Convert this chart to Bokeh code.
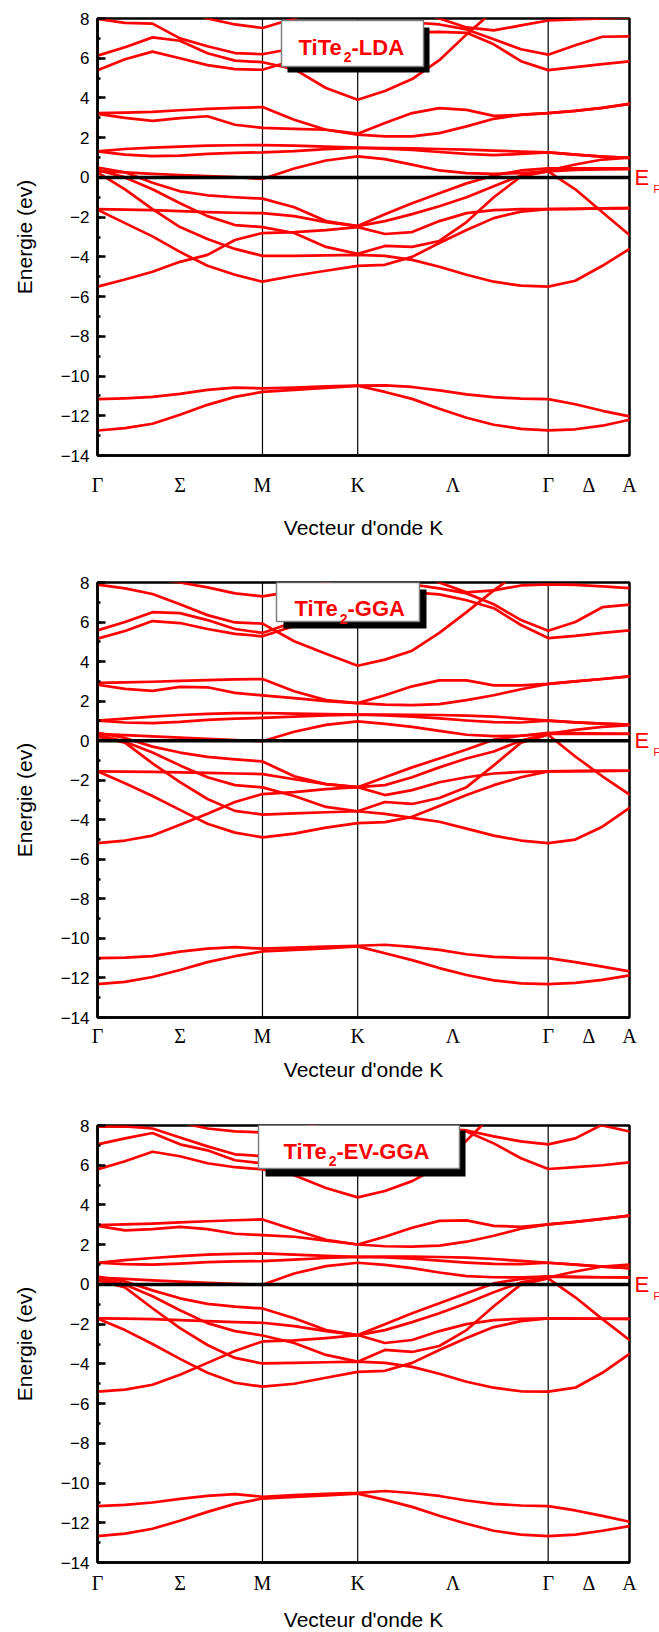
from bokeh.plotting import figure
from bokeh.layouts import column
from bokeh.models import (Range1d, FixedTicker, SingleIntervalTicker, Span, BoxAnnotation,
                          Label, LinearAxis)
from bokeh.embed import file_html
from bokeh.resources import INLINE

# ---------------------------------------------------------------------------
# k-path (units of 1e-4 * 2pi/a) and labels
# ---------------------------------------------------------------------------
HSP_K = [0, 5774, 9107, 15774, 18620]          # Gamma, M, K, Gamma, A
SEG_STEPS = [6, 3, 7, 3]                        # sampled k-points per segment
TICK_K = [0, 2887, 5774, 9107, 12440, 15774, 17197, 18620]
TICK_LABELS = ["Γ", "Σ", "M", "K", "Λ", "Γ", "Δ", "A"]
E_MIN, E_MAX = -14, 8

# ---------------------------------------------------------------------------
# Band energies (eV) on the k-path grid: Γ ... M .. K ...... Γ .. A
# ---------------------------------------------------------------------------
# TiTe2 - LDA
lda_s1 = [-11.16, -11.12, -11.05, -10.90, -10.70, -10.58, -10.62, -10.58, -10.52, -10.48, -10.47, -10.55, -10.72, -10.92, -11.06, -11.14, -11.16, -11.42, -11.75, -12.03]
lda_s2 = [-12.74, -12.62, -12.40, -11.95, -11.45, -11.05, -10.80, -10.70, -10.60, -10.49, -10.80, -11.15, -11.65, -12.10, -12.45, -12.66, -12.74, -12.68, -12.50, -12.20]
lda_v1 = [0.50, 0.26, -0.27, -0.70, -0.90, -1.00, -1.07, -1.50, -2.20, -2.45, -1.85, -1.30, -0.80, -0.30, 0.10, 0.35, 0.45, 0.45, 0.45, 0.45]
lda_v2 = [0.38, 0.00, -0.60, -1.30, -1.95, -2.40, -2.50, -2.80, -3.50, -3.85, -3.45, -3.50, -3.20, -2.25, -1.00, 0.05, 0.30, -0.60, -1.75, -2.90]
lda_v3 = [0.25, -0.60, -1.60, -2.50, -3.10, -3.60, -3.95, -3.95, -3.93, -3.90, -3.95, -4.15, -4.50, -4.90, -5.25, -5.45, -5.50, -5.20, -4.45, -3.60]
lda_v4 = [-1.60, -1.62, -1.65, -1.70, -1.75, -1.78, -1.80, -1.95, -2.25, -2.45, -2.20, -1.85, -1.45, -1.00, -0.45, 0.10, 0.35, 0.65, 0.90, 1.00]
lda_v5 = [-1.63, -2.30, -2.97, -3.75, -4.45, -4.90, -5.25, -4.95, -4.70, -4.45, -4.40, -4.00, -3.30, -2.65, -2.05, -1.72, -1.60, -1.58, -1.56, -1.55]
lda_v6 = [-5.50, -5.14, -4.75, -4.25, -3.90, -3.15, -2.80, -2.75, -2.65, -2.50, -2.85, -2.75, -2.20, -1.80, -1.65, -1.60, -1.60, -1.58, -1.56, -1.55]
lda_c1 = [0.32, 0.25, 0.18, 0.12, 0.07, 0.02, -0.08, 0.45, 0.85, 1.06, 0.92, 0.64, 0.35, 0.22, 0.18, 0.22, 0.30, 0.38, 0.40, 0.42]
lda_c2 = [1.31, 1.43, 1.50, 1.55, 1.60, 1.62, 1.63, 1.60, 1.55, 1.50, 1.48, 1.46, 1.43, 1.40, 1.35, 1.30, 1.26, 1.15, 1.05, 0.98]
lda_c3 = [1.31, 1.15, 1.07, 1.10, 1.18, 1.24, 1.26, 1.32, 1.42, 1.48, 1.45, 1.38, 1.28, 1.18, 1.12, 1.18, 1.26, 1.15, 1.05, 0.98]
lda_c4 = [3.24, 3.26, 3.30, 3.38, 3.45, 3.50, 3.54, 2.90, 2.40, 2.20, 2.74, 3.24, 3.49, 3.40, 3.10, 3.15, 3.24, 3.35, 3.50, 3.70]
lda_c5 = [3.20, 3.00, 2.85, 2.98, 3.08, 2.65, 2.49, 2.44, 2.40, 2.15, 2.07, 2.07, 2.23, 2.57, 2.95, 3.16, 3.24, 3.35, 3.50, 3.70]
lda_c6 = [6.13, 6.55, 7.05, 6.88, 6.25, 5.88, 5.80, 5.45, 4.50, 3.91, 4.35, 4.95, 5.90, 7.20, 8.40, 9.20, 9.50, 9.50, 9.50, 9.50]
lda_c7 = [7.98, 7.78, 7.74, 7.00, 6.60, 6.26, 6.20, 6.50, 6.90, 7.20, 7.50, 7.80, 7.70, 7.45, 6.95, 6.45, 6.18, 6.65, 7.08, 7.10]
lda_c8 = [5.39, 5.95, 6.33, 6.00, 5.65, 5.45, 5.42, 5.90, 6.60, 7.00, 7.15, 7.30, 7.33, 7.28, 6.70, 5.85, 5.40, 5.55, 5.70, 5.84]
lda_c9 = [9.00, 8.90, 8.70, 8.40, 8.00, 7.70, 7.52, 8.00, 8.50, 9.00, 9.00, 9.00, 9.00, 9.00, 9.00, 9.00, 9.00, 9.00, 9.00, 9.00]
lda_c10 = [9.00, 9.00, 9.00, 9.00, 9.00, 9.00, 9.00, 9.00, 9.00, 9.00, 8.60, 8.40, 8.00, 7.55, 7.40, 7.65, 7.90, 7.95, 8.00, 8.05]

# TiTe2 - GGA
gga_s1 = [-11.00, -10.97, -10.90, -10.67, -10.52, -10.44, -10.52, -10.47, -10.42, -10.37, -10.32, -10.43, -10.58, -10.80, -10.93, -10.98, -11.00, -11.20, -11.43, -11.67]
gga_s2 = [-12.31, -12.20, -11.95, -11.60, -11.20, -10.90, -10.66, -10.58, -10.50, -10.40, -10.75, -11.10, -11.50, -11.85, -12.12, -12.27, -12.31, -12.25, -12.10, -11.87]
gga_v1 = [0.40, 0.14, -0.30, -0.60, -0.82, -0.95, -1.05, -1.80, -2.20, -2.35, -1.85, -1.35, -0.90, -0.45, 0.05, 0.25, 0.40, 0.38, 0.36, 0.35]
gga_v2 = [0.30, -0.05, -0.60, -1.25, -1.85, -2.25, -2.36, -2.80, -3.35, -3.57, -3.10, -3.20, -2.90, -2.35, -1.25, -0.10, 0.30, -0.80, -1.80, -2.73]
gga_v3 = [0.20, -0.10, -1.15, -2.10, -2.95, -3.55, -3.74, -3.68, -3.62, -3.57, -3.70, -3.90, -4.10, -4.45, -4.80, -5.05, -5.18, -5.00, -4.35, -3.40]
gga_v4 = [-1.55, -1.56, -1.58, -1.60, -1.63, -1.66, -1.69, -1.95, -2.20, -2.35, -2.25, -1.85, -1.35, -0.90, -0.55, 0.00, 0.35, 0.55, 0.70, 0.78]
gga_v5 = [-1.55, -2.15, -2.80, -3.50, -4.20, -4.65, -4.89, -4.70, -4.40, -4.17, -4.12, -3.85, -3.30, -2.75, -2.25, -1.85, -1.55, -1.54, -1.53, -1.52]
gga_v6 = [-5.18, -5.05, -4.80, -4.25, -3.70, -3.10, -2.70, -2.60, -2.45, -2.35, -2.75, -2.50, -2.10, -1.85, -1.66, -1.58, -1.55, -1.54, -1.53, -1.52]
gga_c1 = [0.34, 0.28, 0.22, 0.15, 0.09, 0.03, -0.03, 0.45, 0.80, 0.98, 0.85, 0.70, 0.50, 0.30, 0.23, 0.25, 0.34, 0.34, 0.34, 0.34]
gga_c2 = [1.01, 1.12, 1.22, 1.30, 1.36, 1.39, 1.40, 1.37, 1.34, 1.32, 1.32, 1.31, 1.30, 1.27, 1.22, 1.12, 1.01, 0.93, 0.86, 0.81]
gga_c3 = [1.01, 0.92, 0.89, 0.95, 1.05, 1.12, 1.15, 1.22, 1.28, 1.32, 1.28, 1.22, 1.13, 1.02, 0.94, 0.92, 1.01, 0.93, 0.86, 0.81]
gga_c4 = [2.92, 2.95, 2.98, 3.02, 3.06, 3.10, 3.12, 2.50, 2.05, 1.90, 2.30, 2.75, 3.05, 3.05, 2.80, 2.80, 2.87, 3.00, 3.12, 3.25]
gga_c5 = [2.83, 2.62, 2.52, 2.72, 2.70, 2.42, 2.29, 2.15, 2.00, 1.90, 1.82, 1.80, 1.85, 2.05, 2.30, 2.60, 2.87, 3.00, 3.12, 3.25]
gga_c6 = [7.89, 7.70, 7.42, 6.90, 6.35, 5.98, 5.92, 5.03, 4.40, 3.79, 4.10, 4.55, 5.45, 6.50, 7.60, 8.60, 9.00, 9.00, 9.00, 9.00]
gga_c7 = [5.58, 6.00, 6.50, 6.45, 6.10, 5.65, 5.45, 6.00, 6.50, 6.90, 7.30, 7.90, 7.70, 7.45, 6.90, 6.10, 5.56, 6.00, 6.75, 6.88]
gga_c8 = [5.16, 5.55, 6.05, 5.95, 5.65, 5.40, 5.28, 5.80, 6.40, 6.80, 7.30, 7.50, 7.40, 7.10, 6.70, 5.85, 5.19, 5.30, 5.45, 5.58]
gga_c9 = [8.60, 8.40, 8.20, 8.00, 7.75, 7.45, 7.30, 7.55, 8.00, 8.50, 9.00, 9.00, 9.00, 9.00, 9.00, 9.00, 9.00, 9.00, 9.00, 9.00]
gga_c10 = [9.00, 9.00, 9.00, 9.00, 9.00, 9.00, 9.00, 9.00, 9.00, 9.00, 9.00, 8.60, 8.00, 7.50, 7.60, 7.85, 7.90, 7.88, 7.80, 7.72]

# TiTe2 - EV-GGA
ev_s1 = [-11.16, -11.10, -10.98, -10.80, -10.65, -10.56, -10.69, -10.61, -10.55, -10.49, -10.40, -10.50, -10.65, -10.88, -11.05, -11.13, -11.16, -11.38, -11.65, -11.95]
ev_s2 = [-12.67, -12.55, -12.30, -11.90, -11.45, -11.05, -10.78, -10.70, -10.62, -10.53, -10.85, -11.20, -11.65, -12.05, -12.40, -12.60, -12.67, -12.60, -12.40, -12.17]
ev_v1 = [0.39, 0.15, -0.30, -0.70, -0.98, -1.12, -1.21, -1.70, -2.30, -2.55, -2.00, -1.45, -0.95, -0.45, 0.05, 0.28, 0.40, 0.38, 0.36, 0.35]
ev_v2 = [0.30, 0.00, -0.60, -1.30, -1.95, -2.35, -2.57, -2.95, -3.55, -3.89, -3.30, -3.40, -3.10, -2.30, -1.10, 0.00, 0.30, -0.65, -1.75, -2.80]
ev_v3 = [0.20, -0.15, -1.20, -2.20, -3.05, -3.70, -3.98, -3.95, -3.92, -3.89, -3.95, -4.15, -4.50, -4.90, -5.20, -5.38, -5.40, -5.20, -4.45, -3.50]
ev_v4 = [-1.71, -1.72, -1.75, -1.80, -1.85, -1.90, -1.93, -2.10, -2.35, -2.55, -2.30, -1.90, -1.45, -0.95, -0.40, 0.10, 0.35, 0.65, 0.90, 1.00]
ev_v5 = [-1.71, -2.30, -3.00, -3.75, -4.45, -4.95, -5.15, -5.00, -4.70, -4.40, -4.35, -3.95, -3.30, -2.70, -2.15, -1.85, -1.71, -1.72, -1.73, -1.74]
ev_v6 = [-5.40, -5.30, -5.05, -4.55, -3.95, -3.35, -2.87, -2.82, -2.70, -2.55, -2.95, -2.80, -2.35, -2.00, -1.80, -1.73, -1.71, -1.72, -1.73, -1.74]
ev_c1 = [0.34, 0.28, 0.20, 0.14, 0.08, 0.03, -0.02, 0.55, 0.92, 1.09, 0.98, 0.82, 0.60, 0.42, 0.36, 0.35, 0.39, 0.37, 0.36, 0.35]
ev_c2 = [1.09, 1.22, 1.33, 1.42, 1.50, 1.54, 1.56, 1.50, 1.44, 1.39, 1.40, 1.40, 1.38, 1.35, 1.28, 1.18, 1.09, 1.00, 0.90, 0.82]
ev_c3 = [1.09, 1.02, 1.00, 1.05, 1.12, 1.16, 1.17, 1.25, 1.33, 1.39, 1.36, 1.30, 1.20, 1.10, 1.03, 1.02, 1.09, 1.00, 0.90, 0.82]
ev_c4 = [2.99, 3.02, 3.06, 3.12, 3.18, 3.23, 3.27, 2.75, 2.25, 2.01, 2.40, 2.85, 3.20, 3.22, 2.95, 2.90, 3.02, 3.15, 3.30, 3.46]
ev_c5 = [2.95, 2.72, 2.78, 2.90, 2.78, 2.55, 2.48, 2.40, 2.20, 2.01, 1.92, 1.90, 1.95, 2.15, 2.45, 2.80, 3.02, 3.15, 3.30, 3.46]
ev_c6 = [5.79, 6.20, 6.68, 6.45, 6.10, 5.90, 5.79, 5.50, 4.85, 4.38, 4.70, 5.20, 5.95, 7.25, 8.60, 9.00, 9.00, 9.00, 9.00, 9.00]
ev_c7 = [7.05, 7.35, 7.62, 7.05, 6.75, 6.25, 6.09, 6.50, 7.00, 7.30, 7.60, 7.80, 7.85, 7.75, 7.45, 7.20, 7.05, 7.35, 8.05, 8.50]
ev_c8 = [7.94, 7.96, 7.85, 7.40, 6.95, 6.55, 6.46, 6.90, 7.30, 7.60, 7.80, 7.90, 7.85, 7.70, 7.10, 6.35, 5.81, 5.90, 6.00, 6.14]
ev_c9 = [8.60, 8.50, 8.40, 8.15, 7.85, 7.70, 7.65, 7.75, 8.20, 9.00, 9.00, 9.00, 9.00, 9.00, 9.00, 9.00, 9.00, 9.00, 9.00, 9.00]
ev_c10 = [9.00, 9.00, 9.00, 9.00, 9.00, 9.00, 9.00, 9.00, 9.00, 9.00, 9.00, 9.00, 9.00, 9.00, 9.00, 9.00, 8.60, 8.40, 8.00, 7.70]

LDA_BANDS = [lda_s1, lda_s2, lda_v1, lda_v2, lda_v3, lda_v4, lda_v5, lda_v6, lda_c1, lda_c2,
             lda_c3, lda_c4, lda_c5, lda_c6, lda_c7, lda_c8, lda_c9, lda_c10]
GGA_BANDS = [gga_s1, gga_s2, gga_v1, gga_v2, gga_v3, gga_v4, gga_v5, gga_v6, gga_c1, gga_c2,
             gga_c3, gga_c4, gga_c5, gga_c6, gga_c7, gga_c8, gga_c9, gga_c10]
EV_BANDS = [ev_s1, ev_s2, ev_v1, ev_v2, ev_v3, ev_v4, ev_v5, ev_v6, ev_c1, ev_c2,
            ev_c3, ev_c4, ev_c5, ev_c6, ev_c7, ev_c8, ev_c9, ev_c10]

# ---------------------------------------------------------------------------
# Styling / layout
# ---------------------------------------------------------------------------
SANS = "Liberation Sans"
SERIF = "Liberation Serif"
RED = "#ff0000"
FRAME_W = 532
BORDER_L = 97
BORDER_R = 30
KX_PER_PX = (HSP_K[-1] - HSP_K[0]) / FRAME_W

# Arial-bold advance widths (em) for laying out the boxed title pieces
BOLD_W = {"T": .611, "i": .278, "e": .556, "2": .556, "-": .333, "L": .611,
          "D": .722, "A": .722, "G": .778, "E": .667, "V": .667}

# per-panel geometry, pixel offsets measured from the frame's top-left corner
PANELS = [
    dict(bands=LDA_BANDS, tag="LDA", frame_h=437, top=18, bottom=90,
         xlab_standoff=18, xtitle_standoff=17,
         box=(184, 2, 326, 48), shadow=(190, 9, 332, 54),
         text=(201, 29, 38)),
    dict(bands=GGA_BANDS, tag="GGA", frame_h=435, top=37, bottom=73,
         xlab_standoff=7, xtitle_standoff=8,
         box=(179, 0, 322, 39), shadow=(186, 7, 329, 46),
         text=(197, 26, 36)),
    dict(bands=EV_BANDS, tag="EV-GGA", frame_h=437, top=35, bottom=70,
         xlab_standoff=9, xtitle_standoff=11,
         box=(161, -2, 362, 43), shadow=(168, 5, 368, 51),
         text=(186, 26, 35)),
]
EF_SUB_E = -0.6      # energy level at which the subscript F of E_F sits


def kpath():
    ks = [HSP_K[0]]
    for a, b, n in zip(HSP_K[:-1], HSP_K[1:], SEG_STEPS):
        ks += [a + (b - a) * i / n for i in range(1, n + 1)]
    return ks


def text_width(s, size):
    return sum(BOLD_W.get(c, 0.6) for c in s) * size


def tag_axis(level, text, size, standoff):
    """label-only axis on the right, used for the E_F marker"""
    return LinearAxis(ticker=FixedTicker(ticks=[level]), major_label_overrides={level: text},
                      axis_line_color=None, major_tick_line_color=None,
                      major_tick_in=0, major_tick_out=0,
                      minor_tick_line_color=None, minor_tick_in=0, minor_tick_out=0,
                      major_label_standoff=standoff,
                      major_label_text_font=SANS, major_label_text_font_size=size,
                      major_label_text_color=RED)


def make_panel(cfg):
    fh = cfg["frame_h"]
    e_per_px = (E_MAX - E_MIN) / fh

    def to_data(px, py):
        """frame-relative pixel offset -> (k, E) data coordinates"""
        return HSP_K[0] + px * KX_PER_PX, E_MAX - py * e_per_px

    p = figure(frame_width=FRAME_W, frame_height=fh,
               x_range=Range1d(HSP_K[0], HSP_K[-1]), y_range=Range1d(E_MIN, E_MAX),
               min_border_left=BORDER_L, min_border_right=BORDER_R,
               min_border_top=cfg["top"], min_border_bottom=cfg["bottom"],
               output_backend="svg", toolbar_location=None)
    p.grid.visible = False
    p.background_fill_color = "white"
    p.border_fill_color = "white"
    p.outline_line_color = "black"
    p.outline_line_width = 2.5
    p.outline_line_alpha = 1.0

    # high-symmetry verticals (under the bands)
    for kx in HSP_K[1:-1]:
        p.add_layout(Span(location=kx, dimension="height", line_color="black",
                          line_width=1.2, level="underlay"))

    ks = kpath()
    p.multi_line([ks] * len(cfg["bands"]), cfg["bands"], line_color=RED,
                 line_width=2.7, line_join="round", line_cap="round")

    # Fermi level
    p.add_layout(Span(location=0, dimension="width", line_color="black", line_width=3.5))

    # x axis: k-path labels
    xa = p.xaxis[0]
    xa.ticker = FixedTicker(ticks=TICK_K)
    xa.major_label_overrides = dict(zip(TICK_K, TICK_LABELS))
    xa.major_tick_in = 0
    xa.major_tick_out = 0
    xa.minor_tick_line_color = None
    xa.axis_line_width = 2.5
    xa.major_label_text_font = SERIF
    xa.major_label_text_font_size = "20px"
    xa.major_label_text_color = "black"
    xa.major_label_standoff = cfg["xlab_standoff"]
    xa.axis_label = "Vecteur d'onde K"
    xa.axis_label_text_font = SANS
    xa.axis_label_text_font_size = "21px"
    xa.axis_label_text_font_style = "normal"
    xa.axis_label_text_color = "black"
    xa.axis_label_standoff = cfg["xtitle_standoff"]

    # y axis: energy
    ya = p.yaxis[0]
    ya.ticker = SingleIntervalTicker(interval=2, num_minor_ticks=2)
    ya.major_tick_in = 8
    ya.major_tick_out = 0
    ya.minor_tick_in = 3
    ya.minor_tick_out = 0
    ya.major_tick_line_width = 2.5
    ya.minor_tick_line_width = 2.5
    ya.axis_line_width = 2.5
    ya.major_label_text_font = SANS
    ya.major_label_text_font_size = "17px"
    ya.major_label_text_color = "black"
    ya.major_label_standoff = 8
    ya.axis_label = "Energie (ev)"
    ya.axis_label_text_font = SANS
    ya.axis_label_text_font_size = "21px"
    ya.axis_label_text_font_style = "normal"
    ya.axis_label_text_color = "black"
    ya.axis_label_standoff = 22

    # E_F marker right of the frame
    p.add_layout(tag_axis(0, "E", "22px", 5), "right")
    p.add_layout(tag_axis(EF_SUB_E, "F", "10px", 1), "right")

    # boxed method label with drop shadow
    sl, st = to_data(*cfg["shadow"][:2])
    sr, sb = to_data(*cfg["shadow"][2:])
    p.add_layout(BoxAnnotation(left=sl, right=sr, top=st, bottom=sb,
                               fill_color="black", fill_alpha=1.0, line_color=None))
    bl, bt = to_data(*cfg["box"][:2])
    br, bb = to_data(*cfg["box"][2:])
    p.add_layout(BoxAnnotation(left=bl, right=br, top=bt, bottom=bb,
                               fill_color="white", fill_alpha=1.0,
                               line_color="#7f7f7f", line_alpha=1.0, line_width=1.5))

    tx, base, sub = cfg["text"]
    pieces = [("TiTe", 22, base), ("2", 14, sub), ("-" + cfg["tag"], 22, base)]
    x = tx
    for s, size, by in pieces:
        lx, ly = to_data(x, by)
        p.add_layout(Label(x=lx, y=ly, text=s, text_font=SANS, text_font_style="bold",
                           text_font_size=f"{size}px", text_color=RED,
                           text_align="left", text_baseline="alphabetic"))
        x += text_width(s, size)
    return p


layout = column(*[make_panel(c) for c in PANELS], spacing=0)
open("out.html", "w").write(file_html(layout, INLINE))
